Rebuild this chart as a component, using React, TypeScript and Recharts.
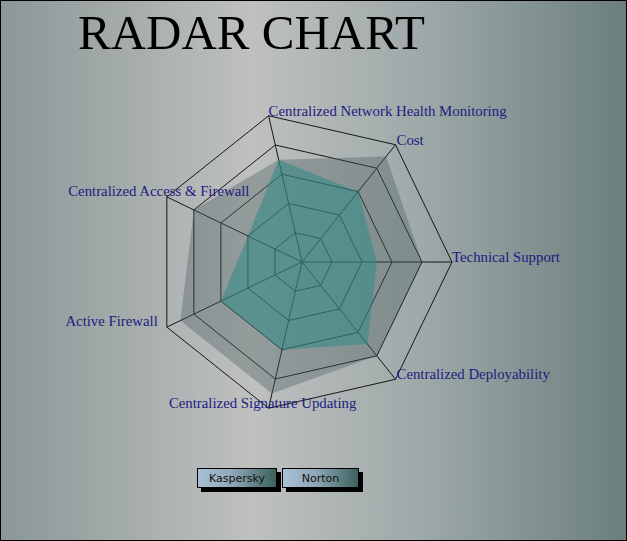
import { RadarChart, Radar, PolarGrid, PolarAngleAxis, PolarRadiusAxis, Legend } from "recharts";

// axes listed clockwise, starting at the top-left spoke
const axes = [
  "Centralized Network Health Monitoring",
  "Cost",
  "Technical Support",
  "Centralized Deployability",
  "Centralized Signature Updating",
  "Active Firewall",
  "Centralized Access & Firewall",
];
const kaspersky = [3.5, 4.5, 4, 4, 4.5, 4.5, 4];
const norton = [3.5, 3, 2.5, 3.5, 3, 3, 2];

const data = axes.map((axis, i) => ({ axis, kaspersky: kaspersky[i], norton: norton[i] }));

const CX = 302;
const CY = 262;
const R = 150;
const START = 90 + 360 / 7 / 4; // ~102.86 deg

// label placement around the vertices
const labelPlace: Record<string, { anchor: "start" | "middle" | "end"; dx: number; dy: number }> = {
  "Technical Support": { anchor: "start", dx: 0, dy: 0 },
  Cost: { anchor: "start", dx: 1, dy: 0 },
  "Centralized Network Health Monitoring": { anchor: "start", dx: 0, dy: 0 },
  "Centralized Access & Firewall": { anchor: "middle", dx: -8, dy: -1 },
  "Active Firewall": { anchor: "end", dx: -9, dy: -1 },
  "Centralized Signature Updating": { anchor: "middle", dx: -6, dy: 0 },
  "Centralized Deployability": { anchor: "start", dx: 1, dy: 0 },
};

const AngleTick = (props: any) => {
  const { x, y, payload } = props;
  const p = labelPlace[payload.value] || { anchor: "start", dx: 0, dy: 0 };
  // snap back onto the outer vertex
  const ddx = x - CX;
  const ddy = y - CY;
  const len = Math.sqrt(ddx * ddx + ddy * ddy) || 1;
  const vx = CX + (ddx / len) * R;
  const vy = CY + (ddy / len) * R;
  return (
    <text
      x={vx + p.dx}
      y={vy + p.dy}
      textAnchor={p.anchor}
      fill="#1c1c80"
      fontFamily="'Liberation Serif', serif"
      fontSize={14.8}
    >
      {payload.value}
    </text>
  );
};

const LegendBoxes = (props: any) => {
  const { payload } = props;
  return (
    <div style={{ display: "flex", gap: 5 }}>
      {(payload || []).map((entry: any, i: number) => (
        <div
          key={entry.value}
          style={{
            width: i === 0 ? 80 : 77,
            height: 20,
            boxSizing: "border-box",
            border: "1px solid #000",
            background: "linear-gradient(to right, #a9bfd6, #8ea6b8 45%, #3b615c)",
            boxShadow: "4px 4px 0 #000",
            fontFamily: "'DejaVu Sans', sans-serif",
            fontSize: 11,
            color: "#111",
            display: "flex",
            alignItems: "center",
            justifyContent: "center",
          }}
        >
          {entry.value}
        </div>
      ))}
    </div>
  );
};

export default function App() {
  return (
    <div
      style={{
        position: "absolute",
        left: 0,
        top: 0,
        width: 627,
        height: 541,
        boxSizing: "border-box",
        border: "1px solid #000",
        background: "linear-gradient(to right, #8b9797 0%, #bfc0c0 40%, #9da8a8 68%, #6b7f7e 100%)",
        overflow: "hidden",
      }}
    >
      <div
        style={{
          position: "absolute",
          left: 77,
          top: 4,
          fontFamily: "'Liberation Serif', serif",
          fontSize: 49,
          lineHeight: "56px",
          color: "#000",
        }}
      >
        RADAR CHART
      </div>
      <div style={{ position: "absolute", left: -1, top: -1 }}>
        <RadarChart
          width={627}
          height={541}
          data={data}
          cx={CX}
          cy={CY}
          outerRadius={R}
          startAngle={START}
          endAngle={START - 360}
        >
          <PolarGrid gridType="polygon" stroke="#141818" strokeWidth={1} />
          <PolarAngleAxis dataKey="axis" tick={<AngleTick />} tickLine={false} axisLine={false} />
          <PolarRadiusAxis domain={[0, 5]} tickCount={6} tick={false} axisLine={false} />
          <Radar
            name="Kaspersky"
            dataKey="kaspersky"
            stroke="none"
            fill="#4d5e5e"
            fillOpacity={0.38}
            isAnimationActive={false}
          />
          <Radar
            name="Norton"
            dataKey="norton"
            stroke="none"
            fill="#2e8a86"
            fillOpacity={0.55}
            isAnimationActive={false}
          />
          <Legend
            content={<LegendBoxes />}
            wrapperStyle={{ position: "absolute", left: 197, top: 468, width: "auto" }}
          />
        </RadarChart>
      </div>
    </div>
  );
}
